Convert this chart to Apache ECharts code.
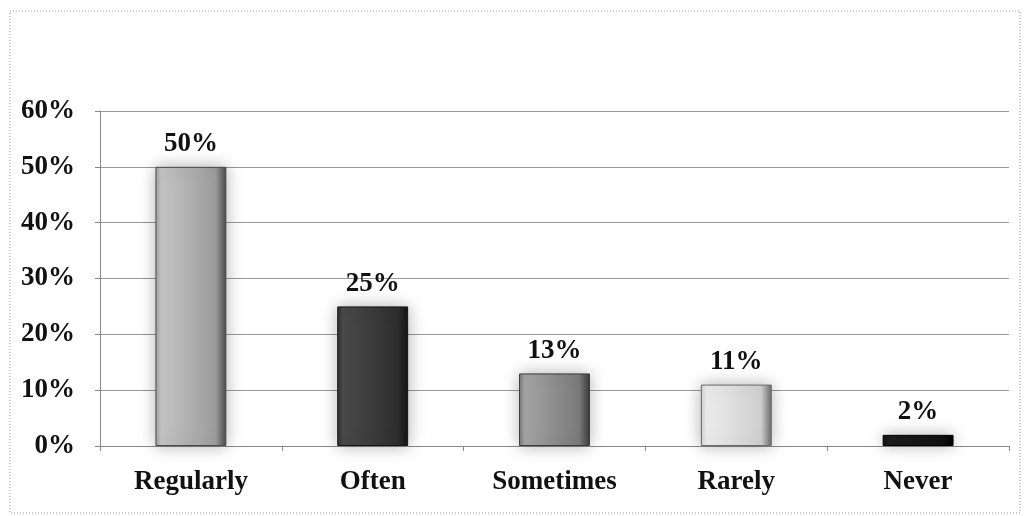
<!DOCTYPE html>
<html><head><meta charset="utf-8">
<script src="https://cdn.jsdelivr.net/npm/echarts@6/dist/echarts.min.js"></script>
<style>html,body{margin:0;padding:0;background:#fff}#c{width:1026px;height:516px}</style>
</head><body><div id="c"></div>
<script>
const categories = ['Regularly', 'Often', 'Sometimes', 'Rarely', 'Never'];
const values = [50, 25, 13, 11, 2];
const barColors = [
  ['#9c9c9c', '#c4c4c4', '#4a4a4a'],
  ['#2e2e2e', '#4a4a4a', '#141414'],
  ['#7a7a7a', '#a4a4a4', '#3a3a3a'],
  ['#cfcfcf', '#ececec', '#6a6a6a'],
  ['#111111', '#1c1c1c', '#000000']
];
const yTicks = [0, 10, 20, 30, 40, 50, 60];

const chart = echarts.init(document.getElementById('c'));
const font = 'Liberation Serif, Times New Roman, serif';
chart.setOption({
  animation: false,
  graphic: [{
    type: 'rect', shape: {x: 10, y: 11, width: 1010, height: 502},
    style: {fill: 'none', stroke: '#999', lineDash: [1, 2], lineWidth: 1}
  }],
  grid: {left: 100, right: 17, top: 111, bottom: 70},
  xAxis: {
    type: 'category', data: categories,
    axisLine: {lineStyle: {color: '#888'}},
    axisTick: {show: true, length: 5, lineStyle: {color: '#888'}},
    axisLabel: {color: '#111', fontFamily: font, fontWeight: 'bold', fontSize: 27, margin: 23}
  },
  yAxis: {
    type: 'value', min: 0, max: 60, interval: 10,
    axisLine: {show: true, lineStyle: {color: '#888'}},
    axisTick: {show: true, length: 5, lineStyle: {color: '#888'}},
    splitLine: {lineStyle: {color: '#999', width: 1}},
    axisLabel: {color: '#111', fontFamily: font, fontWeight: 'bold', fontSize: 27, margin: 25,
      formatter: v => v + '%'}
  },
  series: [{
    type: 'bar', barWidth: '39%',
    data: values.map((v, i) => ({
      value: v,
      itemStyle: {
        color: new echarts.graphic.LinearGradient(0, 0, 1, 0, [
          {offset: 0, color: barColors[i][0]},
          {offset: 0.08, color: barColors[i][1]},
          {offset: 0.85, color: barColors[i][0]},
          {offset: 1, color: barColors[i][2]}
        ]),
        borderColor: barColors[i][2], borderWidth: 1,
        shadowColor: 'rgba(0,0,0,0.3)', shadowBlur: 16
      }
    })),
    label: {show: true, position: 'top', distance: 9, formatter: p => p.value + '%',
      color: '#111', fontFamily: font, fontWeight: 'bold', fontSize: 27}
  }]
});
</script></body></html>
